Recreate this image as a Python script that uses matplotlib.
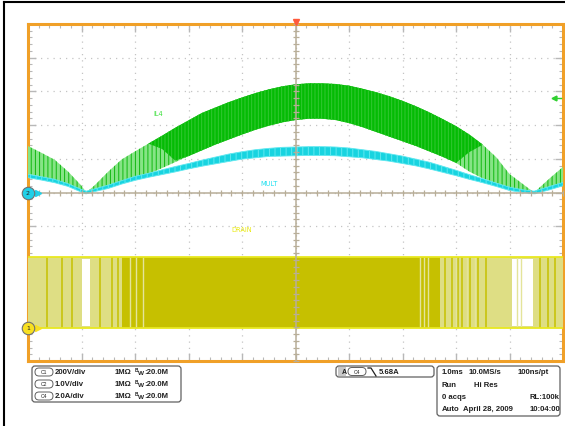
import matplotlib
matplotlib.use("Agg")
import matplotlib.pyplot as plt
from matplotlib.patches import FancyBboxPatch, Rectangle
from matplotlib.lines import Line2D
from matplotlib.transforms import IdentityTransform

# ---------------- data (screen divisions) ----------------
t_div = [-5.0, -4.75, -4.5, -4.25, -4.0, -3.91, -3.75, -3.5, -3.25, -3.0,
         -2.75, -2.5, -2.25, -2.0, -1.75, -1.5, -1.25, -1.0, -0.75, -0.5,
         -0.25, 0.0, 0.25, 0.5, 0.75, 1.0, 1.25, 1.5, 1.75, 2.0,
         2.25, 2.5, 2.75, 3.0, 3.25, 3.5, 3.75, 4.0, 4.25, 4.46,
         4.75, 5.0]
il4_upper = [1.38, 1.18, 0.97, 0.62, 0.20, 0.0, 0.22, 0.62, 0.98, 1.22,
             1.45, 1.68, 1.92, 2.14, 2.36, 2.52, 2.68, 2.82, 2.95, 3.06,
             3.15, 3.21, 3.24, 3.24, 3.22, 3.17, 3.08, 2.98, 2.86, 2.72,
             2.56, 2.38, 2.18, 1.97, 1.72, 1.42, 1.05, 0.55, 0.25, 0.0,
             0.42, 0.76]
il4_lower = [0.55, 0.47, 0.38, 0.22, 0.05, 0.0, 0.06, 0.20, 0.32, 0.44,
             0.55, 0.72, 0.90, 1.08, 1.25, 1.42, 1.57, 1.72, 1.86, 1.98,
             2.08, 2.15, 2.19, 2.19, 2.15, 2.06, 1.94, 1.80, 1.66, 1.52,
             1.38, 1.22, 1.06, 0.88, 0.62, 0.42, 0.28, 0.13, 0.06, 0.0,
             0.16, 0.28]
il4_dark_lower = [1.38, 1.18, 0.97, 0.62, 0.20, 0.0, 0.22, 0.62, 0.98, 1.22,
                  1.45, 1.30, 0.95, 1.08, 1.25, 1.42, 1.57, 1.72, 1.86, 1.98,
                  2.08, 2.15, 2.19, 2.19, 2.15, 2.06, 1.94, 1.80, 1.66, 1.52,
                  1.38, 1.22, 1.06, 0.88, 1.20, 1.42, 1.05, 0.55, 0.25, 0.0,
                  0.42, 0.76]
mult_center = [0.49, 0.42, 0.34, 0.22, 0.05, 0.0, 0.07, 0.17, 0.30, 0.42,
               0.51, 0.60, 0.69, 0.78, 0.87, 0.95, 1.03, 1.10, 1.15, 1.19,
               1.21, 1.22, 1.23, 1.23, 1.22, 1.19, 1.15, 1.10, 1.04, 0.97,
               0.89, 0.80, 0.69, 0.58, 0.46, 0.35, 0.23, 0.11, 0.04, 0.0,
               0.13, 0.25]
mult_halfwidth = [0.05, 0.05, 0.05, 0.04, 0.04, 0.04, 0.04, 0.05, 0.05, 0.06,
                  0.06, 0.07, 0.08, 0.08, 0.09, 0.10, 0.11, 0.11, 0.12, 0.12,
                  0.13, 0.13, 0.13, 0.13, 0.13, 0.13, 0.12, 0.12, 0.11, 0.11,
                  0.10, 0.10, 0.09, 0.08, 0.07, 0.06, 0.05, 0.05, 0.04, 0.04,
                  0.05, 0.05]

drain_high = -1.92
drain_low = -4.02
drain_light_spans = [(-5.0, -2.66), (2.70, 5.0)]
drain_dark_spans = [(-3.24, 2.70)]
drain_gaps = [(-3.99, -3.84), (4.05, 4.44)]
drain_dark_stripes = [-4.64, -4.37, -4.18, -3.66, -3.43, -3.32, 2.80, 2.93,
                      3.04, 3.12, 3.27, 3.42, 3.57, 4.57, 4.72, 4.85]
drain_light_stripes = [-3.10, -2.98, -2.85, 2.33, 2.40, 2.48, 3.00, 3.20,
                       3.35, 4.14, 4.22]

ch_labels = ["C1", "C2", "C4"]
ch_scales = ["200V/div", "1.0V/div", "2.0A/div"]
trig_value = "5.68A"

# ---------------- figure ----------------
W, H = 565, 427
fig = plt.figure(figsize=(W / 100, H / 100), dpi=100)
fig.patch.set_facecolor("white")
plt.rcParams["hatch.linewidth"] = 0.7

ax = fig.add_axes([28 / W, 1 - 362 / H, 535 / W, 337 / H])
ax.set_xlim(-5, 5)
ax.set_ylim(-5, 5)
ax.set_facecolor("white")
for s in ax.spines.values():
    s.set_color("#f0a028")
    s.set_linewidth(2.2)
ax.set_xticks(range(-5, 6))
ax.set_yticks(range(-5, 6))
ax.set_xticks([i / 5 for i in range(-25, 26)], minor=True)
ax.set_yticks([i / 5 for i in range(-25, 26)], minor=True)
ax.tick_params(which="both", direction="in", top=True, right=True,
               labelbottom=False, labelleft=False, color="#b8b8b8")
ax.tick_params(which="major", length=6, width=1)
ax.tick_params(which="minor", length=3, width=0.8)
ax.grid(which="major", color="#c4c4c4", linestyle=(0, (1, 4)), linewidth=0.9)

# ---- IL4 (green) ----
ax.fill_between(t_div, il4_lower, il4_upper, facecolor="#86e486",
                edgecolor="#10b810", hatch="||||", linewidth=0, zorder=3)
ax.fill_between(t_div, il4_dark_lower, il4_upper, facecolor="#04bc04",
                edgecolor="#34c834", hatch="|||||", linewidth=0, zorder=4)

# ---- MULT (cyan) ----
m_lo = [c - h for c, h in zip(mult_center, mult_halfwidth)]
m_hi = [c + h for c, h in zip(mult_center, mult_halfwidth)]
ax.fill_between(t_div, m_lo, m_hi, facecolor="#18d4e0", edgecolor="#60e8f0",
                hatch="|||", linewidth=0.6, zorder=5)

# ---- DRAIN (yellow) ----
for a, b in drain_light_spans:
    ax.fill_between([a, b], drain_low, drain_high, facecolor="#dede84",
                    linewidth=0, zorder=3)
for a, b in drain_dark_spans:
    ax.fill_between([a, b], drain_low, drain_high, facecolor="#c6c000",
                    linewidth=0, zorder=3)
ax.vlines(drain_dark_stripes, drain_low, drain_high, color="#c6c000",
          linewidth=1.1, zorder=3.5)
for a, b in drain_gaps:
    ax.fill_between([a, b], drain_low + 0.05, drain_high - 0.05,
                    facecolor="white", linewidth=0, zorder=3.6)
ax.vlines(drain_light_stripes, drain_low, drain_high, color="#e4e49a",
          linewidth=1.0, zorder=3.65)
ax.hlines([drain_high, drain_low], -5, 5, color="#e8e820", linewidth=1.3,
          zorder=3.7)

# ---- labels on screen ----
ax.text(-2.57, 2.36, "IL4", color="#3ee03e", fontsize=4.8, ha="center",
        va="center", family="DejaVu Sans", zorder=6)
ax.text(-0.50, 0.28, "MULT", color="#20e0f0", fontsize=4.8, ha="center",
        va="center", family="DejaVu Sans", zorder=6)
ax.text(-1.00, -1.08, "DRAIN", color="#eaea10", fontsize=4.8, ha="center",
        va="center", family="DejaVu Sans", zorder=6)

# ---- centre crosshair with ticks ----
ax2 = fig.add_axes(ax.get_position(), facecolor="none")
ax2.set_xlim(-5, 5)
ax2.set_ylim(-5, 5)
ax2.spines["top"].set_visible(False)
ax2.spines["right"].set_visible(False)
for k in ("left", "bottom"):
    ax2.spines[k].set_position(("data", 0))
    ax2.spines[k].set_color("#b8ae98")
    ax2.spines[k].set_linewidth(1.1)
ax2.set_xticks([i / 5 for i in range(-25, 26)])
ax2.set_yticks([i / 5 for i in range(-25, 26)])
ax2.tick_params(direction="inout", length=5, width=0.9, color="#b8ae98",
                labelbottom=False, labelleft=False)
ax2.set_zorder(ax.get_zorder() + 1)

# markers: trigger position, trigger level, channel ground refs
ax2.plot([0], [5.05], marker="v", color="#ff5a3c", markersize=5,
         clip_on=False, zorder=10)
ax2.plot([4.83, 4.97], [2.80, 2.80], color="#30d030", lw=1.0, clip_on=False)
ax2.plot([4.83], [2.80], marker="<", color="#30d030", markersize=3.5,
         clip_on=False, zorder=10)
for yv, col, lab in [(0, "#20d0e8", "2"), (-4.02, "#f8e020", "1")]:
    ax2.plot([-4.82], [yv], marker=">", color=col, markersize=4,
             clip_on=False, zorder=11)
    ax2.plot([-5.0], [yv], marker="o", markersize=9, markerfacecolor=col,
             markeredgecolor="#707070", markeredgewidth=0.8, clip_on=False,
             zorder=12)
    ax2.text(-5.0, yv, lab, fontsize=4.5, ha="center", va="center",
             color="#202020", zorder=13, clip_on=False)

# ---------------- outer frame ----------------
fig.add_artist(Line2D([4 / W, 4 / W], [0, 1 - 3 / H], color="black", lw=1.5))
fig.add_artist(Line2D([4 / W, 1], [1 - 3 / H, 1 - 3 / H], color="black", lw=1.5))

# ---------------- info panel ----------------
T = IdentityTransform()


def box(x0, y0, x1, y1, r=3, fc="white", ec="#606060", lw=0.9):
    p = FancyBboxPatch((x0, H - y1), x1 - x0, y1 - y0,
                       boxstyle=f"round,pad=0,rounding_size={r}",
                       facecolor=fc, edgecolor=ec, linewidth=lw, transform=T)
    fig.add_artist(p)


def txt(x, y, s, size=5.6, ha="left", weight="bold", color="#202020"):
    fig.text(x / W, 1 - y / H, s, fontsize=size, ha=ha, va="center",
             fontweight=weight, family="Liberation Sans", color=color)


box(32, 367, 181, 403)
rows_y = [373, 385, 397]
for yy, cl, sc in zip(rows_y, ch_labels, ch_scales):
    box(35, yy - 4, 53, yy + 4, r=4, lw=0.7)
    txt(44, yy, cl, size=3.6, ha="center", weight="normal")
    txt(55, yy, sc)
    txt(115, yy, "1M\u03a9")
    txt(135, yy - 2, "B", size=3.4)
    txt(138.5, yy + 0.8, "W", size=4.6)
    txt(144, yy, ":20.0M")

box(336, 367, 434, 378)
fig.add_artist(Rectangle((337.5, H - 377), 8, 9, facecolor="#c8c8c8",
                         edgecolor="none", transform=T))
txt(341.5, 372.5, "A", size=5)
box(348, 368.5, 366, 376.5, r=4, lw=0.7)
txt(357, 372.5, "C4", size=3.6, ha="center", weight="normal")
fig.add_artist(Line2D([368, 371, 376], [H - 369, H - 369, H - 377],
                      color="#202020", lw=0.9, transform=T))
txt(379, 372.5, trig_value)

box(437, 367, 560, 417)
txt(442, 373, "1.0ms")
txt(469, 373, "10.0MS/s")
txt(518, 373, "100ns/pt")
txt(442, 386, "Run")
txt(474, 386, "Hi Res")
txt(442, 398, "0 acqs")
txt(530, 398, "RL:100k")
txt(442, 410, "Auto")
txt(463, 410, "April 28, 2009")
txt(530, 410, "10:04:00")

fig.savefig("out.png", dpi=100)
